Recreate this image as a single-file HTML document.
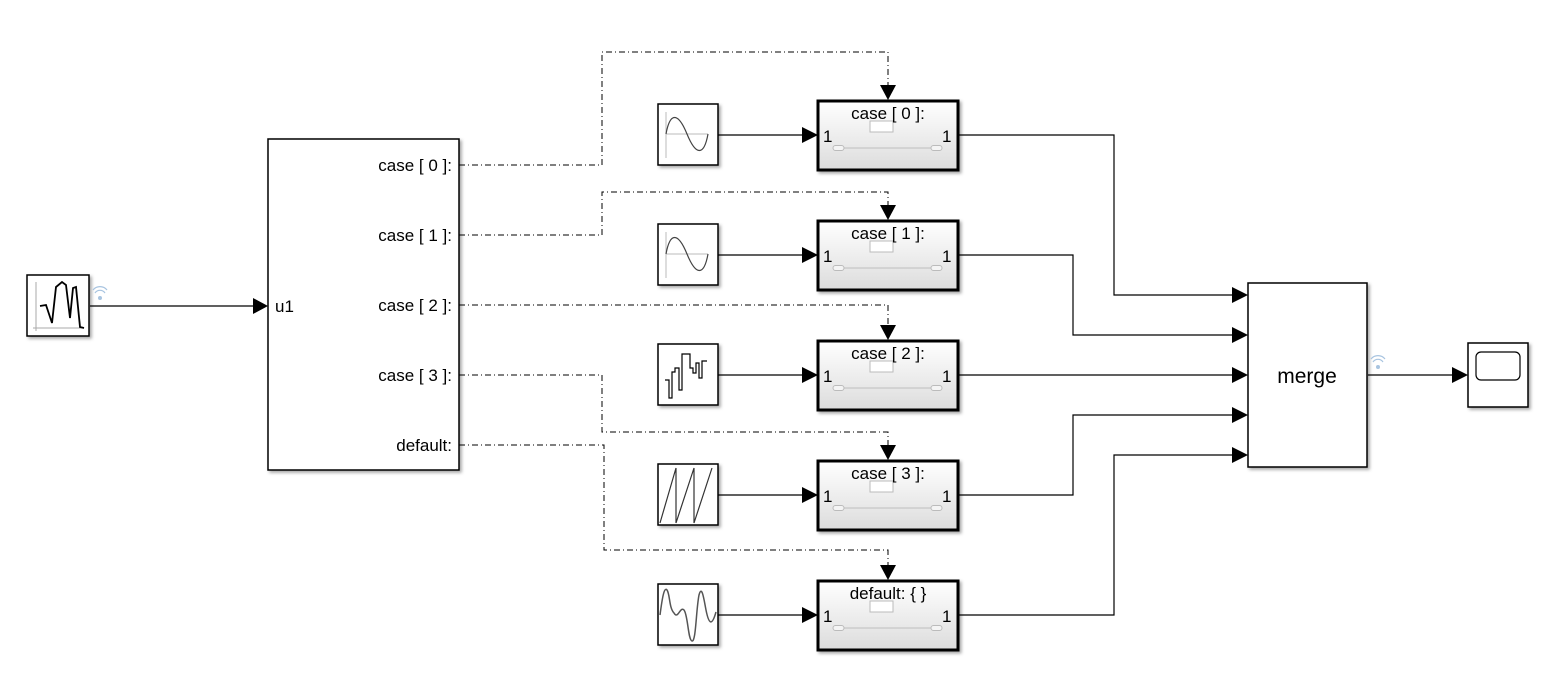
<!DOCTYPE html>
<html><head><meta charset="utf-8"><style>
html,body{margin:0;padding:0;background:#fff;}
svg{display:block;font-family:"Liberation Sans",Arial,sans-serif;}
</style></head><body>
<svg width="1568" height="696" viewBox="0 0 1568 696" xmlns="http://www.w3.org/2000/svg">
<defs>
<linearGradient id="g" x1="0" y1="0" x2="0" y2="1"><stop offset="0" stop-color="#ffffff"/><stop offset="1" stop-color="#dcdcdc"/></linearGradient>
<filter id="sh" x="-10%" y="-10%" width="130%" height="130%"><feDropShadow dx="2" dy="2" stdDeviation="1.5" flood-color="#000" flood-opacity="0.35"/></filter>
</defs>

<rect x="27" y="275" width="62" height="61" fill="#fff" stroke="#000" stroke-width="1.5" filter="url(#sh)"/>
<line x1="33" y1="328" x2="82" y2="328" stroke="#aaa"/><line x1="36" y1="282" x2="36" y2="331" stroke="#aaa"/>
<polyline points="40,306 46,305 52,323 56,287 62,282 66,285 70,318 73,288 76,287 80,327 84,328" fill="none" stroke="#000" stroke-width="1.8"/>
<g fill="none" stroke="#a8c4e0" stroke-width="1.2"><path d="M95,293 a6,6 0 0 1 10,0"/><path d="M93,290 a9,9 0 0 1 14,0"/></g>
<circle cx="100" cy="298" r="2" fill="#a8c4e0"/>
<line x1="90" y1="306" x2="256" y2="306" stroke="#000" stroke-width="1.2"/>
<polygon points="253,298 268,306 253,314" fill="#000"/>

<rect x="268" y="139" width="191" height="331" fill="#fff" stroke="#000" stroke-width="1.5" filter="url(#sh)"/>
<g font-size="17" fill="#000" text-anchor="end">
<text x="452" y="171">case [ 0 ]:</text>
<text x="452" y="241">case [ 1 ]:</text>
<text x="452" y="311">case [ 2 ]:</text>
<text x="452" y="381">case [ 3 ]:</text>
<text x="452" y="451">default:</text>
</g>
<text x="275" y="312" font-size="17">u1</text>

<g fill="none" stroke="#000" stroke-width="1" stroke-dasharray="6,3,1,3">
<polyline points="459,165 602,165 602,52 888,52 888,88"/>
<polyline points="459,235 602,235 602,192 888,192 888,208"/>
<polyline points="459,305 888,305 888,328"/>
<polyline points="459,375 602,375 602,432 888,432 888,448"/>
<polyline points="459,445 604,445 604,550 888,550 888,568"/>
</g>
<g fill="#000">
<polygon points="880,85 896,85 888,100"/>
<polygon points="880,205 896,205 888,220"/>
<polygon points="880,325 896,325 888,340"/>
<polygon points="880,445 896,445 888,460"/>
<polygon points="880,565 896,565 888,580"/>
</g>

<g fill="#fff" stroke="#000" stroke-width="1.5" filter="url(#sh)">
<rect x="658" y="104" width="60" height="61"/>
<rect x="658" y="224" width="60" height="61"/>
<rect x="658" y="344" width="60" height="61"/>
<rect x="658" y="464" width="60" height="61"/>
<rect x="658" y="584" width="60" height="61"/>
</g>
<g stroke="#bbb" stroke-width="1"><line x1="666" y1="134" x2="708" y2="134"/><line x1="666" y1="112" x2="666" y2="158"/>
<line x1="666" y1="254" x2="708" y2="254"/><line x1="666" y1="232" x2="666" y2="278"/></g>
<path d="M666,134 C670,112 678,112 687,134 C696,156 704,156 708,134" fill="none" stroke="#444" stroke-width="1.2"/>
<path d="M666,254 C670,232 678,232 687,254 C696,276 704,276 708,254" fill="none" stroke="#444" stroke-width="1.2"/>
<polyline points="665,380 669,380 669,398 672,398 672,372 675,372 675,368 679,368 679,390 682,390 682,354 690,354 690,368 693,368 693,373 696,373 696,363 699,363 699,378 702,378 702,361 707,361" fill="none" stroke="#000" stroke-width="1.2"/>
<polyline points="660,523 676,468 676,523 694,468 694,523 712,468" fill="none" stroke="#333" stroke-width="1.2"/>
<path d="M660,615 C662,600 664,586 667,590 C670,594 669,608 674,613 C678,620 680,606 684,610 C688,615 688,640 692,641 C696,642 696,610 699,595 C702,584 704,600 706,610 C709,625 712,626 716,612" fill="none" stroke="#555" stroke-width="1.5"/>
<g stroke="#000" stroke-width="1.2">
<line x1="718" y1="135" x2="806" y2="135"/><line x1="718" y1="255" x2="806" y2="255"/>
<line x1="718" y1="375" x2="806" y2="375"/><line x1="718" y1="495" x2="806" y2="495"/>
<line x1="718" y1="615" x2="806" y2="615"/>
</g>
<g fill="#000">
<polygon points="802,127 818,135 802,143"/><polygon points="802,247 818,255 802,263"/>
<polygon points="802,367 818,375 802,383"/><polygon points="802,487 818,495 802,503"/>
<polygon points="802,607 818,615 802,623"/>
</g>

<g fill="url(#g)" stroke="#000" stroke-width="3" filter="url(#sh)">
<rect x="818" y="101" width="140" height="69"/>
<rect x="818" y="221" width="140" height="69"/>
<rect x="818" y="341" width="140" height="69"/>
<rect x="818" y="461" width="140" height="69"/>
<rect x="818" y="581" width="140" height="69"/>
</g>
<g fill="#fff" stroke="#bbb" stroke-width="1">
<rect x="870" y="121" width="23" height="11"/><rect x="870" y="241" width="23" height="11"/><rect x="870" y="361" width="23" height="11"/><rect x="870" y="481" width="23" height="11"/><rect x="870" y="601" width="23" height="11"/>
</g>
<g font-size="17" text-anchor="middle">
<text x="888" y="119">case [ 0 ]:</text>
<text x="888" y="239">case [ 1 ]:</text>
<text x="888" y="359">case [ 2 ]:</text>
<text x="888" y="479">case [ 3 ]:</text>
<text x="888" y="599">default: { }</text>
</g>
<g font-size="17">
<text x="823" y="142">1</text><text x="942" y="142">1</text>
<text x="823" y="262">1</text><text x="942" y="262">1</text>
<text x="823" y="382">1</text><text x="942" y="382">1</text>
<text x="823" y="502">1</text><text x="942" y="502">1</text>
<text x="823" y="622">1</text><text x="942" y="622">1</text>
</g>
<g stroke="#ccc" stroke-width="1.5">
<line x1="840" y1="148" x2="935" y2="148"/><line x1="840" y1="268" x2="935" y2="268"/><line x1="840" y1="388" x2="935" y2="388"/><line x1="840" y1="508" x2="935" y2="508"/><line x1="840" y1="628" x2="935" y2="628"/>
</g>
<g fill="#f4f4f4" stroke="#bbb">
<rect x="833" y="145.5" width="11" height="5" rx="2.5"/><rect x="931" y="145.5" width="11" height="5" rx="2.5"/>
<rect x="833" y="265.5" width="11" height="5" rx="2.5"/><rect x="931" y="265.5" width="11" height="5" rx="2.5"/>
<rect x="833" y="385.5" width="11" height="5" rx="2.5"/><rect x="931" y="385.5" width="11" height="5" rx="2.5"/>
<rect x="833" y="505.5" width="11" height="5" rx="2.5"/><rect x="931" y="505.5" width="11" height="5" rx="2.5"/>
<rect x="833" y="625.5" width="11" height="5" rx="2.5"/><rect x="931" y="625.5" width="11" height="5" rx="2.5"/>
</g>

<g fill="none" stroke="#000" stroke-width="1.2">
<polyline points="959,135 1114,135 1114,295 1236,295"/>
<polyline points="959,255 1073,255 1073,335 1236,335"/>
<polyline points="959,375 1236,375"/>
<polyline points="959,495 1073,495 1073,415 1236,415"/>
<polyline points="959,615 1114,615 1114,455 1236,455"/>
</g>
<g fill="#000">
<polygon points="1232,287 1248,295 1232,303"/><polygon points="1232,327 1248,335 1232,343"/>
<polygon points="1232,367 1248,375 1232,383"/><polygon points="1232,407 1248,415 1232,423"/>
<polygon points="1232,447 1248,455 1232,463"/>
</g>
<rect x="1248" y="283" width="119" height="184" fill="#fff" stroke="#000" stroke-width="1.5" filter="url(#sh)"/>
<text x="1307" y="383" font-size="21" text-anchor="middle">merge</text>
<g fill="none" stroke="#a8c4e0" stroke-width="1.2"><path d="M1373,362 a6,6 0 0 1 10,0"/><path d="M1371,359 a9,9 0 0 1 14,0"/></g>
<circle cx="1378" cy="367" r="2" fill="#a8c4e0"/>
<line x1="1368" y1="375" x2="1456" y2="375" stroke="#000" stroke-width="1.2"/>
<polygon points="1452,367 1468,375 1452,383" fill="#000"/>
<rect x="1468" y="343" width="60" height="64" fill="#fff" stroke="#000" stroke-width="1.5" filter="url(#sh)"/>
<rect x="1476" y="352" width="44" height="28" rx="5" fill="#fff" stroke="#000" stroke-width="1.2"/>
</svg>
</body></html>
